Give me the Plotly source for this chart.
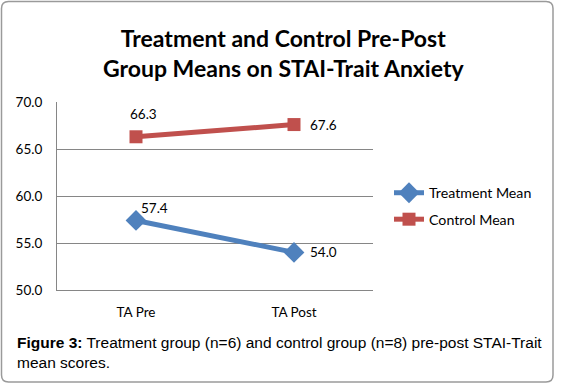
import plotly.graph_objects as go

categories = ["TA Pre", "TA Post"]
treatment_mean = [57.4, 54.0]
control_mean = [66.3, 67.6]
y_ticks = [50, 55, 60, 65, 70]
y_tick_labels = ["50.0", "55.0", "60.0", "65.0", "70.0"]

W, H = 566, 388
def px(x):
    return x / W
def py(y):
    return 1 - y / H

BLUE = "#4F81BD"
RED = "#C0504D"
FONT = "Lato, Carlito, Calibri, sans-serif"

fig = go.Figure()
fig.add_trace(go.Scatter(
    x=categories, y=treatment_mean, name="Treatment Mean", mode="lines+markers",
    legendgroup="t",
    line=dict(color=BLUE, width=5),
    marker=dict(symbol="diamond", size=16, color=BLUE),
))
fig.add_trace(go.Scatter(
    x=categories, y=control_mean, name="Control Mean", mode="lines+markers",
    legendgroup="c",
    line=dict(color=RED, width=5),
    marker=dict(symbol="square", size=13, color=RED),
))

# data labels (offsets in pixels relative to the points)
label_shifts_treatment = [(18, 12), (29, 0)]
label_shifts_control = [(7, 23), (29, 0)]
for vals, shifts in ((treatment_mean, label_shifts_treatment), (control_mean, label_shifts_control)):
    for cat, v, (dx, dy) in zip(categories, vals, shifts):
        fig.add_annotation(x=cat, y=v, xref="x", yref="y", text=f"{v:.1f}", showarrow=False,
                           xshift=dx, yshift=dy, xanchor="center", yanchor="middle",
                           font=dict(family=FONT, size=13.5, color="#000"))

# outer rounded border
r = 7
x0, x1, y0, y1 = 1.5, 553, 1.5, 382
path = (
    f"M {px(x0 + r)},{py(y0)} L {px(x1 - r)},{py(y0)} Q {px(x1)},{py(y0)} {px(x1)},{py(y0 + r)} "
    f"L {px(x1)},{py(y1 - r)} Q {px(x1)},{py(y1)} {px(x1 - r)},{py(y1)} "
    f"L {px(x0 + r)},{py(y1)} Q {px(x0)},{py(y1)} {px(x0)},{py(y1 - r)} "
    f"L {px(x0)},{py(y0 + r)} Q {px(x0)},{py(y0)} {px(x0 + r)},{py(y0)} Z"
)
fig.add_shape(type="path", path=path, xref="paper", yref="paper",
              line=dict(color="#9a9a9a", width=1.5))

fig.add_annotation(
    text="<b>Treatment and Control Pre-Post<br>Group Means on STAI-Trait Anxiety</b>",
    x=px(283), y=py(53), xref="paper", yref="paper", showarrow=False,
    font=dict(family=FONT, size=23, color="#000"), align="center",
    xanchor="center", yanchor="middle",
)
fig.add_annotation(
    text="<b>Figure 3:</b> Treatment group (n=6) and control group (n=8) pre-post STAI-Trait<br>mean scores.",
    x=px(15), y=py(352), xref="paper", yref="paper", showarrow=False,
    font=dict(family="Liberation Sans, Arial, sans-serif", size=15.5, color="#000"), align="left",
    xanchor="left", yanchor="middle",
)

fig.update_layout(
    template="none",
    width=W, height=H, margin=dict(l=0, r=0, t=0, b=0, pad=0, autoexpand=False),
    paper_bgcolor="white", plot_bgcolor="white",
    showlegend=True,
    legend=dict(x=px(389), y=py(177), xanchor="left", yanchor="top",
                font=dict(family=FONT, size=14.2, color="#000"),
                itemwidth=30, tracegroupgap=5, bgcolor="rgba(0,0,0,0)", borderwidth=0),
    xaxis=dict(domain=[px(57), px(373)], range=[-0.5, 1.5], showgrid=False, automargin=False,
               showline=True, linecolor="#868686", linewidth=1, ticks="", zeroline=False,
               tickfont=dict(family=FONT, size=13.5, color="#000"), fixedrange=True,
               ticklabelstandoff=10),
    yaxis=dict(domain=[py(290), py(102)], range=[50, 70], tickvals=y_ticks, ticktext=y_tick_labels,
               automargin=False,
               showgrid=True, gridcolor="#868686", gridwidth=1, zeroline=False,
               showline=True, linecolor="#868686", linewidth=1, ticks="",
               tickfont=dict(family=FONT, size=13.5, color="#000"), ticklabelstandoff=11),
)

fig.write_html("out.html", config={"displayModeBar": False},
               post_script="document.body.style.margin='0';")
